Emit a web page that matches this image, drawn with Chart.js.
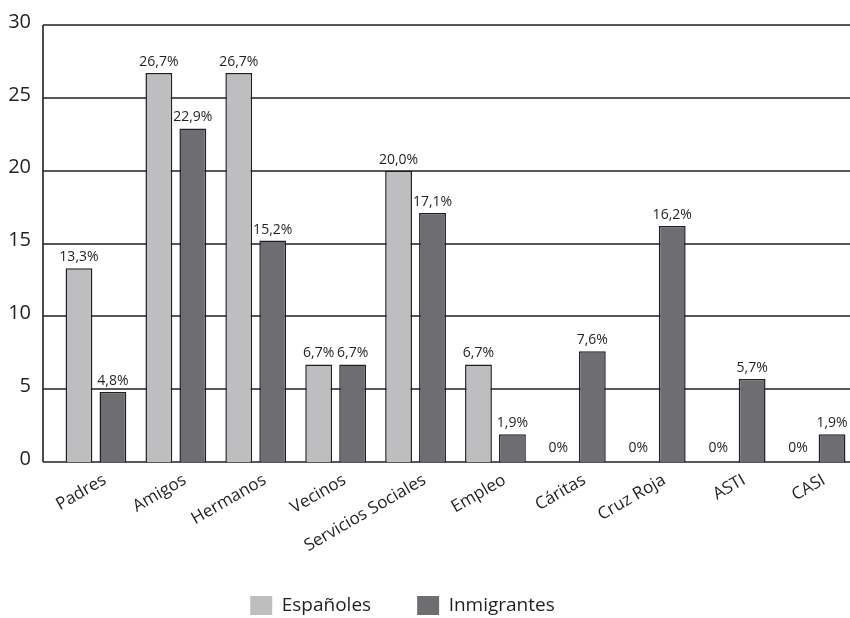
<!DOCTYPE html>
<html>
<head>
<meta charset="utf-8">
<script src="https://cdn.jsdelivr.net/npm/chart.js@4.4.1/dist/chart.umd.min.js"></script>
<style>
    html, body { margin: 0; padding: 0; background: #fff; overflow: hidden; }
    #wrap { width: 860px; height: 618px; }
</style>
</head>
<body>
<div id="wrap"><canvas id="chart1"></canvas></div>
<script>
const categories = ['Padres', 'Amigos', 'Hermanos', 'Vecinos', 'Servicios Sociales', 'Empleo', 'Cáritas', 'Cruz Roja', 'ASTI', 'CASI'];
const espanoles = [13.3, 26.7, 26.7, 6.7, 20.0, 6.7, 0, 0, 0, 0];
const inmigrantes = [4.8, 22.9, 15.2, 6.7, 17.1, 1.9, 7.6, 16.2, 5.7, 1.9];
const seriesNames = ['Españoles', 'Inmigrantes'];
const yTicks = [0, 5, 10, 15, 20, 25, 30];

const ink = '#231f20';
Chart.defaults.font.family = '"Open Sans", sans-serif';
Chart.defaults.color = ink;

function pct(v) {
    if (v === 0) return '0%';
    return v.toFixed(1).replace('.', ',') + '%';
}

// horizontal lines + left axis, drawn a bit left of the first category
const gridLines = {
    id: 'gridLines',
    beforeDatasetsDraw(chart) {
        const ctx = chart.ctx;
        const area = chart.chartArea;
        const y = chart.scales.y;
        const x0 = area.left - 13;
        ctx.save();
        ctx.strokeStyle = ink;
        ctx.lineWidth = 1.6;
        yTicks.forEach(v => {
            const py = Math.round(y.getPixelForValue(v));
            ctx.beginPath();
            ctx.moveTo(x0, py);
            ctx.lineTo(area.right, py);
            ctx.stroke();
        });
        ctx.beginPath();
        ctx.moveTo(x0, Math.round(y.getPixelForValue(yTicks[yTicks.length - 1])));
        ctx.lineTo(x0, Math.round(y.getPixelForValue(0)));
        ctx.stroke();
        ctx.restore();
    }
};

// percentage labels above bars
const barLabels = {
    id: 'barLabels',
    afterDatasetsDraw(chart) {
        const ctx = chart.ctx;
        ctx.save();
        ctx.font = '14px "Open Sans", sans-serif';
        ctx.fillStyle = ink;
        ctx.textAlign = 'center';
        ctx.textBaseline = 'bottom';
        chart.data.datasets.forEach((ds, i) => {
            const meta = chart.getDatasetMeta(i);
            meta.data.forEach((bar, j) => {
                const v = ds.data[j];
                ctx.fillText(pct(v), bar.x, bar.y - (v === 0 ? 7 : 4));
            });
        });
        ctx.restore();
    }
};

// legend gets a thin slot in the layout, then is moved to the bottom,
// a little left of centre like the original
const legendNudge = {
    id: 'legendNudge',
    afterLayout(chart) {
        const lg = chart.legend;
        lg.left -= 25;
        lg.right -= 25;
        lg.top = chart.height - 68;
        lg.bottom = chart.height;
    }
};

const ctx = document.getElementById('chart1');

const chart = new Chart(ctx, {
    type: 'bar',
    data: {
        labels: categories,
        datasets: [{
            label: seriesNames[0],
            data: espanoles,
            backgroundColor: '#bcbec0',
            borderColor: ink,
            borderWidth: 1.5,
            categoryPercentage: 0.85,
            barPercentage: 0.79
        }, {
            label: seriesNames[1],
            data: inmigrantes,
            backgroundColor: '#6d6e71',
            borderColor: ink,
            borderWidth: 1.5,
            categoryPercentage: 0.85,
            barPercentage: 0.79
        }]
    },
    options: {
        responsive: true,
        maintainAspectRatio: false,
        animation: false,
        layout: {
            padding: { top: 25, right: 5, left: 0, bottom: 0 }
        },
        scales: {
            x: {
                grid: { display: false },
                border: { display: false },
                ticks: {
                    font: { size: 17 },
                    minRotation: 30,
                    maxRotation: 30,
                    autoSkip: false,
                    padding: 0,
                    labelOffset: 9
                },
                afterFit: scale => { scale.height = 116; }
            },
            y: {
                min: 0,
                max: 30,
                grid: { display: false, drawTicks: false },
                border: { display: false },
                ticks: {
                    stepSize: 5,
                    font: { size: 20 },
                    padding: 25,
                    labelOffset: -3
                },
                afterFit: scale => {
                    scale.width = 56;
                    scale.paddingTop = 0;
                    scale.paddingBottom = 0;
                }
            }
        },
        plugins: {
            legend: {
                position: 'bottom',
                maxHeight: 40,
                labels: {
                    boxWidth: 22,
                    boxHeight: 19,
                    padding: 46,
                    font: { size: 19 },
                    generateLabels: c => Chart.defaults.plugins.legend.labels.generateLabels(c)
                        .map(l => Object.assign(l, { lineWidth: 0, strokeStyle: 'rgba(0,0,0,0)' }))
                }
            },
            tooltip: { enabled: false }
        }
    },
    plugins: [gridLines, barLabels, legendNudge]
});
</script>
</body>
</html>
